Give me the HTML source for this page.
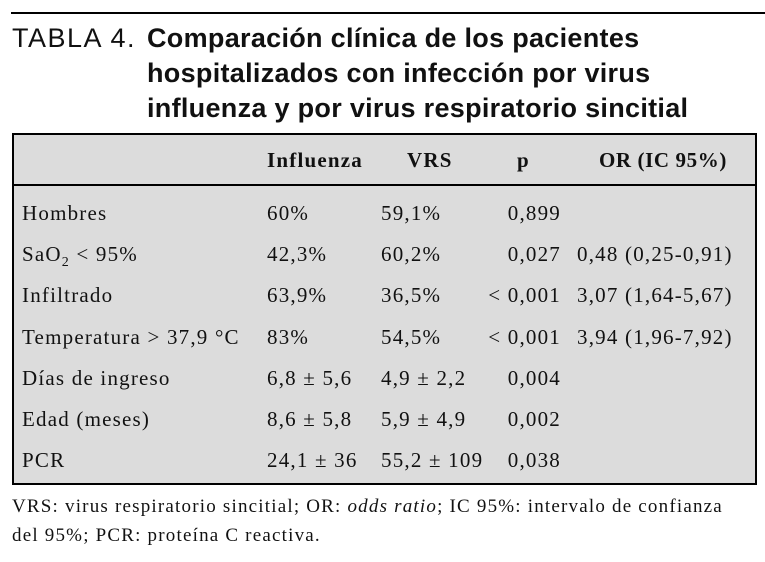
<!DOCTYPE html>
<html><head><meta charset="utf-8"><style>
body{margin:0;width:765px;height:562px;background:#fff;position:relative;overflow:hidden;font-family:"Liberation Serif",serif;color:#111}
.a{position:absolute;white-space:nowrap;line-height:24px}
.t{font-family:"Liberation Sans",sans-serif;font-size:27px;line-height:34px}
.b{font-weight:bold}
.c{font-size:21px;letter-spacing:1.2px}
.r{text-align:right}
</style></head><body>
<div style="position:absolute;left:11px;top:12px;width:754px;height:2px;background:#000"></div>
<div class="a t" style="left:12px;top:21px;letter-spacing:1.5px">TABLA 4.</div>
<div class="a t b" style="left:147px;top:21px;line-height:35px;letter-spacing:0.3px">Comparación clínica de los pacientes<br>hospitalizados con infección por virus<br>influenza y por virus respiratorio sincitial</div>
<div style="position:absolute;left:12px;top:133px;width:741px;height:348px;background:#dcdcdc;border:2px solid #000"></div>
<div style="position:absolute;left:12px;top:184px;width:745px;height:2px;background:#000"></div>
<div class="a c b" style="left:267px;top:148px">Influenza</div>
<div class="a c b" style="left:407px;top:148px">VRS</div>
<div class="a c b" style="left:517px;top:148px">p</div>
<div class="a c b" style="left:599px;top:148px;letter-spacing:0.6px">OR (IC 95%)</div>
<div id="rows"></div>
<div class="a" style="left:12px;top:492px;font-size:19px;letter-spacing:1.2px;line-height:29px">VRS: virus respiratorio sincitial; OR: <i>odds ratio</i>; IC 95%: intervalo de confianza<br>del 95%; PCR: proteína C reactiva.</div>
<script>
const labels=["Hombres","SaO<sub style='font-size:14px'>2</sub> &lt; 95%","Infiltrado","Temperatura &gt; 37,9 °C","Días de ingreso","Edad (meses)","PCR"];
const influenza=["60%","42,3%","63,9%","83%","6,8 ± 5,6","8,6 ± 5,8","24,1 ± 36"];
const vrs=["59,1%","60,2%","36,5%","54,5%","4,9 ± 2,2","5,9 ± 4,9","55,2 ± 109"];
const pvals=["0,899","0,027","&lt; 0,001","&lt; 0,001","0,004","0,002","0,038"];
const ors=["","0,48 (0,25-0,91)","3,07 (1,64-5,67)","3,94 (1,96-7,92)","","",""];
const host=document.getElementById('rows');
labels.forEach((l,i)=>{
  const top=201+i*41.2;
  const cells=[[l,22,'row-label'],[influenza[i],267,'influenza-value'],[vrs[i],381,'vrs-value'],[ors[i],577,'or-value']];
  cells.forEach(c=>{
    const d=document.createElement('div');
    d.className='a c';
    d.style.left=c[1]+'px';d.style.top=top+'px';
    d.innerHTML=c[0];
    
    
    host.appendChild(d);
  });
  const p=document.createElement('div');
  p.className='a c r';
  p.style.left='440px';p.style.width='121px';p.style.top=top+'px';
  p.innerHTML=pvals[i];
  
  
  host.appendChild(p);
});
</script>
</body></html>
